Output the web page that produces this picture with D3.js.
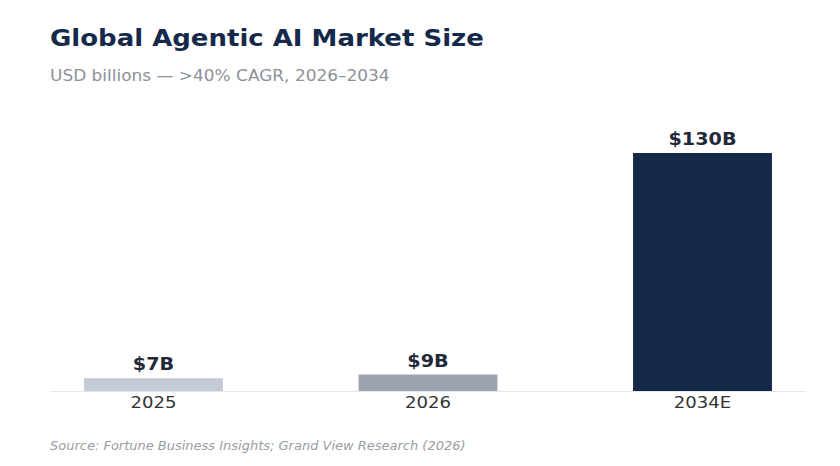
<!DOCTYPE html>
<html><head><meta charset="utf-8">
<script src="https://cdn.jsdelivr.net/npm/d3@7"></script>
<style>body{margin:0;background:#fff}svg{display:block}text{font-family:"DejaVu Sans",sans-serif}</style>
</head><body>
<svg id="c" width="840" height="466"></svg>
<script>
const categories = ["2025", "2026", "2034E"];
const values = [7, 9, 130];
const valueLabels = ["$7B", "$9B", "$130B"];
const barColors = ["#c5cbd6", "#9ca3af", "#15294a"];
const titleText = "Global Agentic AI Market Size";
const subtitleText = "USD billions — >40% CAGR, 2026–2034";
const sourceText = "Source: Fortune Business Insights; Grand View Research (2026)";

const sx = 1.13;
const svg = d3.select("#c");
const x = d3.scaleBand().domain(categories).range([50, 806]).paddingInner(0.494).paddingOuter(0.124);
const y = d3.scaleLinear().domain([0, 130]).range([391, 153]);

function label(px, py) { return `translate(${px},${py}) scale(${sx},1)`; }

svg.append("text").attr("transform", label(50, 46)).attr("font-size", 23).attr("font-weight", "bold")
  .attr("fill", "#15294a").text(titleText);
svg.append("text").attr("transform", label(50, 81)).attr("font-size", 15).attr("fill", "#8e9199").text(subtitleText);

svg.append("g").selectAll("rect").data(values).join("rect")
  .attr("x", (d, i) => x(categories[i])).attr("width", x.bandwidth())
  .attr("y", d => y(d)).attr("height", d => y(0) - y(d))
  .attr("fill", (d, i) => barColors[i]);

const ax = svg.append("g").attr("transform", `translate(0,${y(0)})`).call(d3.axisBottom(x).tickSize(0).tickPadding(6));
ax.select(".domain").attr("stroke", "#e5e7eb").attr("d", "M50,0.5H806");
ax.selectAll("text").attr("font-size", 16).attr("fill", "#333333").attr("font-family", "DejaVu Sans")
  .attr("transform", `scale(${sx},1)`);

svg.append("g").selectAll("text").data(values).join("text")
  .attr("transform", (d, i) => label(x(categories[i]) + x.bandwidth() / 2, y(d) - 8))
  .attr("text-anchor", "middle").attr("font-size", 17).attr("font-weight", "bold").attr("fill", "#1f2937")
  .text((d, i) => valueLabels[i]);

svg.append("text").attr("transform", label(50, 450)).attr("font-size", 11.5).attr("font-style", "italic")
  .attr("fill", "#9a9ca3").text(sourceText);
</script>
</body></html>
